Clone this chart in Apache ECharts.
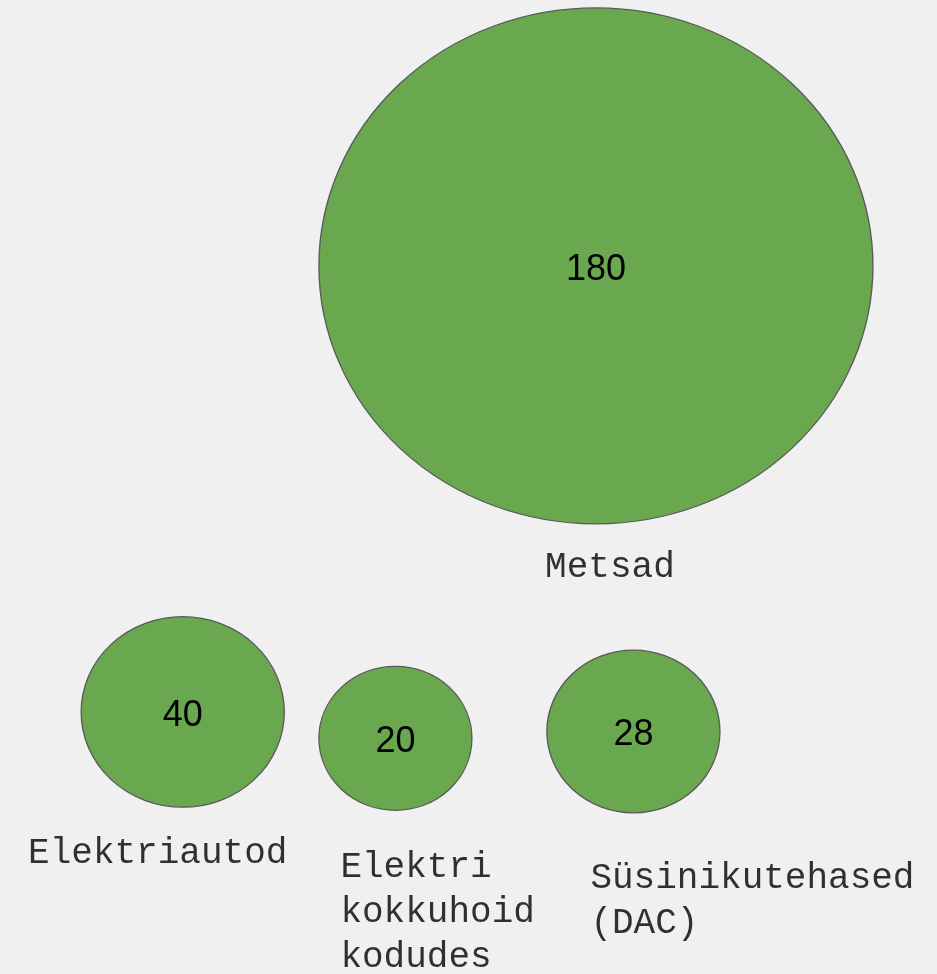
<!DOCTYPE html>
<html>
<head>
<meta charset="utf-8">
<script src="https://cdn.jsdelivr.net/npm/echarts@6/dist/echarts.min.js"></script>
<style>
  html, body { margin: 0; padding: 0; background: #f0f0f0; }
  #chart { width: 937px; height: 974px; }
</style>
</head>
<body>
<div id="chart"></div>
<script>
// bubble data
const names = ['Metsad', 'Elektriautod', 'Elektri\nkokkuhoid\nkodudes', 'Süsinikutehased\n(DAC)'];
const xValues = [6.36, 1.95, 4.22, 6.76];
const yValues = [7.27, 2.69, 2.42, 2.49];
const sizes = [180, 40, 20, 28];

// name label placement, relative to bubble centre
const nameLabels = [
    { position: [14, 279], align: 'center' },
    { position: [-25, 119], align: 'center' },
    { position: [-55, 107], align: 'left' },
    { position: [-43, 124], align: 'left' }
];

const minV = Math.min(...sizes), maxV = Math.max(...sizes);
// radius grows linearly with value (horizontal and vertical radii)
function bubbleSize(v) {
    const t = (v - minV) / (maxV - minV);
    return [2 * (76.5 + t * 200.5), 2 * (72 + t * 186)];
}

const chart = echarts.init(document.getElementById('chart'));

chart.setOption({
    backgroundColor: '#f0f0f0',
    animation: false,
    grid: { left: 0, right: 0, top: 0, bottom: 0 },
    xAxis: { type: 'value', min: 0, max: 10, show: false },
    yAxis: { type: 'value', min: 0, max: 10, show: false },
    series: [
        {
            type: 'scatter',
            symbol: 'circle',
            symbolSize: (val) => bubbleSize(val[2]),
            itemStyle: { color: '#6aa84f', borderColor: '#595959', borderWidth: 1.3, opacity: 1 },
            label: {
                show: true,
                position: 'inside',
                offset: [0, 4],
                formatter: (p) => p.value[2],
                color: '#000',
                fontFamily: 'Liberation Sans, Arial, sans-serif',
                fontSize: 36
            },
            emphasis: { disabled: true },
            data: names.map((n, i) => [xValues[i], yValues[i], sizes[i]])
        },
        {
            // name labels under each bubble
            type: 'scatter',
            symbolSize: 0,
            silent: true,
            label: {
                show: true,
                color: '#000',
                fontFamily: 'Liberation Mono, DejaVu Sans Mono, monospace',
                fontSize: 36,
                lineHeight: 45,
                verticalAlign: 'top'
            },
            data: names.map((n, i) => ({
                name: n,
                value: [xValues[i], yValues[i]],
                label: {
                    formatter: n,
                    position: nameLabels[i].position,
                    align: nameLabels[i].align
                }
            }))
        }
    ]
});
</script>
</body>
</html>
